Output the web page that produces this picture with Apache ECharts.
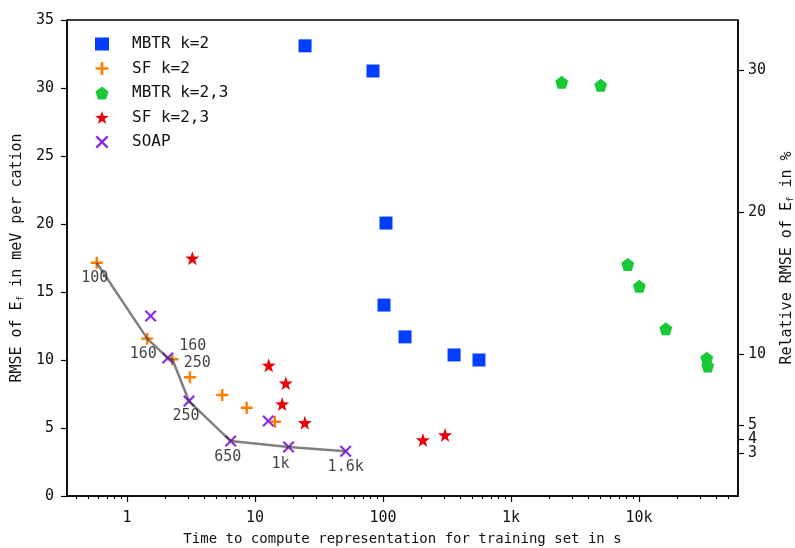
<!DOCTYPE html>
<html>
<head>
<meta charset="utf-8">
<script src="https://cdn.jsdelivr.net/npm/echarts@6/dist/echarts.min.js"></script>
<style>
  html, body { margin: 0; padding: 0; background: #fff; }
  #chart { width: 795px; height: 548px; }
</style>
</head>
<body>
<div id="chart"></div>
<script>
// time to compute (s) vs RMSE (meV per cation)
const mbtr2X = [24.6, 83.5, 105.5, 101.8, 148.6, 359, 562]
const mbtr2Y = [33.1, 31.25, 20.07, 14.04, 11.7, 10.37, 10.0]

const sf2X = [0.58, 1.44, 2.26, 3.1, 5.55, 8.61, 14.3]
const sf2Y = [17.15, 11.57, 10.05, 8.73, 7.43, 6.49, 5.46]

const mbtr23X = [2489, 5020, 8160, 10050, 16170, 33800, 34400]
const mbtr23Y = [30.42, 30.2, 17.03, 15.42, 12.3, 10.13, 9.56]

const sf23X = [3.24, 12.8, 17.4, 16.3, 24.5, 205, 305]
const sf23Y = [17.48, 9.61, 8.29, 6.76, 5.39, 4.12, 4.49]

const soapX = [1.53, 2.08, 3.05, 6.46, 12.7, 18.3, 51.1]
const soapY = [13.24, 10.15, 6.98, 4.04, 5.51, 3.6, 3.29]

// best-of curve with training set sizes
const frontX = [0.58, 1.44, 2.08, 2.26, 3.05, 6.46, 18.3, 51.1]
const frontY = [17.15, 11.57, 10.15, 10.05, 6.98, 4.04, 3.6, 3.29]
const frontLabels = ['100', '160', '160', '250', '250', '650', '1k', '1.6k']

const xMajorTicks = [1, 10, 100, 1000, 10000]
const xMinorTicks = [0.4, 0.5, 0.6, 0.7, 0.8, 0.9, 2, 3, 4, 5, 6, 7, 8, 9,
  20, 30, 40, 50, 60, 70, 80, 90, 200, 300, 400, 500, 600, 700, 800, 900,
  2000, 3000, 4000, 5000, 6000, 7000, 8000, 9000, 20000, 30000, 40000, 50000]
// relative RMSE ticks, split in two sets so the close ones are not dropped
const relTicksA = [3, 5, 10, 20, 30]
const relTicksB = [4]

const FONT = 'DejaVu Sans Mono'
const labelOffsets = [[-2, 15], [-4, 15], [25, -12], [25, 4], [-3, 15], [-3, 16], [-8, 17], [0, 16]]

const SYM = {
  square: 'rect',
  plus: 'path://M4,0H6V4H10V6H6V10H4V6H0V4H4Z',
  pentagon: 'path://M5,0L10,3.8L8.1,10H1.9L0,3.8Z',
  star: 'path://M5,0L6.18,3.38L9.76,3.46L6.9,5.62L7.94,9.05L5,7L2.06,9.05L3.1,5.62L0.24,3.46L3.82,3.38Z',
  cross: 'path://M0,1.3L1.3,0L5,3.7L8.7,0L10,1.3L6.3,5L10,8.7L8.7,10L5,6.3L1.3,10L0,8.7L3.7,5Z',
}

function zip(xs, ys) {
  return xs.map((x, i) => [x, ys[i]])
}

function scatter(name, xs, ys, symbol, size, color) {
  return {
    name,
    type: 'scatter',
    data: zip(xs, ys),
    symbol,
    symbolSize: size,
    itemStyle: { color, opacity: 1 },
    z: 3,
  }
}

function relAxis(values, withLine) {
  return {
    type: 'value',
    position: 'right',
    offset: 0,
    min: 0,
    max: 33.52,
    axisLine: { show: withLine, lineStyle: { color: '#000', width: 1.5 } },
    axisTick: { show: true, customValues: values, length: 6, lineStyle: { color: '#000', width: 1.2 } },
    axisLabel: {
      customValues: values,
      margin: 10,
      fontFamily: FONT,
      fontSize: 15,
      color: '#111',
      showMinLabel: true,
      showMaxLabel: true,
    },
    splitLine: { show: false },
  }
}

const chart = echarts.init(document.getElementById('chart'), null, { renderer: 'canvas' })

chart.setOption({
  animation: false,
  textStyle: { fontFamily: FONT },
  grid: {
    left: 67, right: 57, top: 20, bottom: 52,
    outerBoundsMode: 'none',
    show: true, borderColor: '#000', borderWidth: 1.5, backgroundColor: 'transparent',
  },
  legend: {
    data: ['MBTR k=2', 'SF k=2', 'MBTR k=2,3', 'SF k=2,3', 'SOAP'],
    orient: 'vertical',
    left: 90,
    top: 31,
    itemWidth: 14,
    itemHeight: 13,
    itemGap: 8.5,
    textStyle: { fontFamily: FONT, fontSize: 16, color: '#111', lineHeight: 16, padding: [0, 0, 0, 18] },
  },
  xAxis: [
    {
      type: 'log',
      min: 0.34,
      max: 59300,
      name: 'Time to compute representation for training set in s',
      nameLocation: 'middle',
      nameGap: 36,
      nameTextStyle: { fontFamily: FONT, fontSize: 14, color: '#111' },
      axisLine: { lineStyle: { color: '#000', width: 1.5 } },
      axisTick: { customValues: xMajorTicks, length: 6, lineStyle: { color: '#000', width: 1.2 } },
      axisLabel: {
        customValues: xMajorTicks,
        margin: 15,
        fontFamily: FONT,
        fontSize: 15,
        color: '#111',
        formatter: (v) => (v >= 1000 ? v / 1000 + 'k' : String(v)),
      },
      splitLine: { show: false },
      minorTick: { show: false },
    },
    {
      type: 'log',
      min: 0.34,
      max: 59300,
      position: 'bottom',
      axisLine: { show: false },
      axisTick: { customValues: xMinorTicks, length: 3, lineStyle: { color: '#000', width: 1 } },
      axisLabel: { show: false },
      splitLine: { show: false },
    },
  ],
  yAxis: [
    {
      type: 'value',
      min: 0,
      max: 35,
      interval: 5,
      name: '{n|RMSE of E}{s|f}{n| in meV per cation}',
      nameLocation: 'middle',
      nameGap: 38,
      nameTextStyle: {
        fontFamily: FONT,
        fontSize: 15,
        color: '#111',
        rich: {
          n: { fontFamily: FONT, fontSize: 15, color: '#111' },
          s: { fontFamily: FONT, fontSize: 9, color: '#111', verticalAlign: 'bottom' },
        },
      },
      axisLine: { show: true, lineStyle: { color: '#000', width: 1.5 } },
      axisTick: { show: true, length: 6, lineStyle: { color: '#000', width: 1.2 } },
      axisLabel: { margin: 13, fontFamily: FONT, fontSize: 15, color: '#111' },
      splitLine: { show: false },
    },
    Object.assign(relAxis(relTicksA, true), {
      name: '{n|Relative RMSE of E}{s|f}{n| in %}',
      nameLocation: 'middle',
      nameRotate: 90,
      nameGap: 42,
      nameTextStyle: {
        fontFamily: FONT,
        fontSize: 15,
        color: '#111',
        rich: {
          n: { fontFamily: FONT, fontSize: 15, color: '#111' },
          s: { fontFamily: FONT, fontSize: 9, color: '#111', verticalAlign: 'bottom' },
        },
      },
    }),
    relAxis(relTicksB, false),
  ],
  series: [
    scatter('MBTR k=2', mbtr2X, mbtr2Y, SYM.square, 13, '#023eff'),
    scatter('SF k=2', sf2X, sf2Y, SYM.plus, 12, '#ff7c00'),
    scatter('MBTR k=2,3', mbtr23X, mbtr23Y, SYM.pentagon, 13, '#1ac938'),
    scatter('SF k=2,3', sf23X, sf23Y, SYM.star, 14, '#e8000b'),
    scatter('SOAP', soapX, soapY, SYM.cross, 12, '#8b2be2'),
    {
      name: 'front',
      type: 'line',
      data: zip(frontX, frontY),
      showSymbol: false,
      symbol: 'none',
      lineStyle: { color: 'rgba(60, 60, 60, 0.65)', width: 2.5 },
      z: 5,
      silent: true,
    },
    {
      name: 'sizes',
      type: 'scatter',
      symbolSize: 1,
      itemStyle: { color: 'rgba(0,0,0,0)' },
      z: 6,
      silent: true,
      data: frontX.map((x, i) => ({
        value: [x, frontY[i]],
        label: {
          show: true,
          position: 'inside',
          offset: labelOffsets[i],
          formatter: frontLabels[i],
          fontFamily: FONT,
          fontSize: 15,
          color: '#111',
        },
      })),
    },
  ],
})
</script>
</body>
</html>
